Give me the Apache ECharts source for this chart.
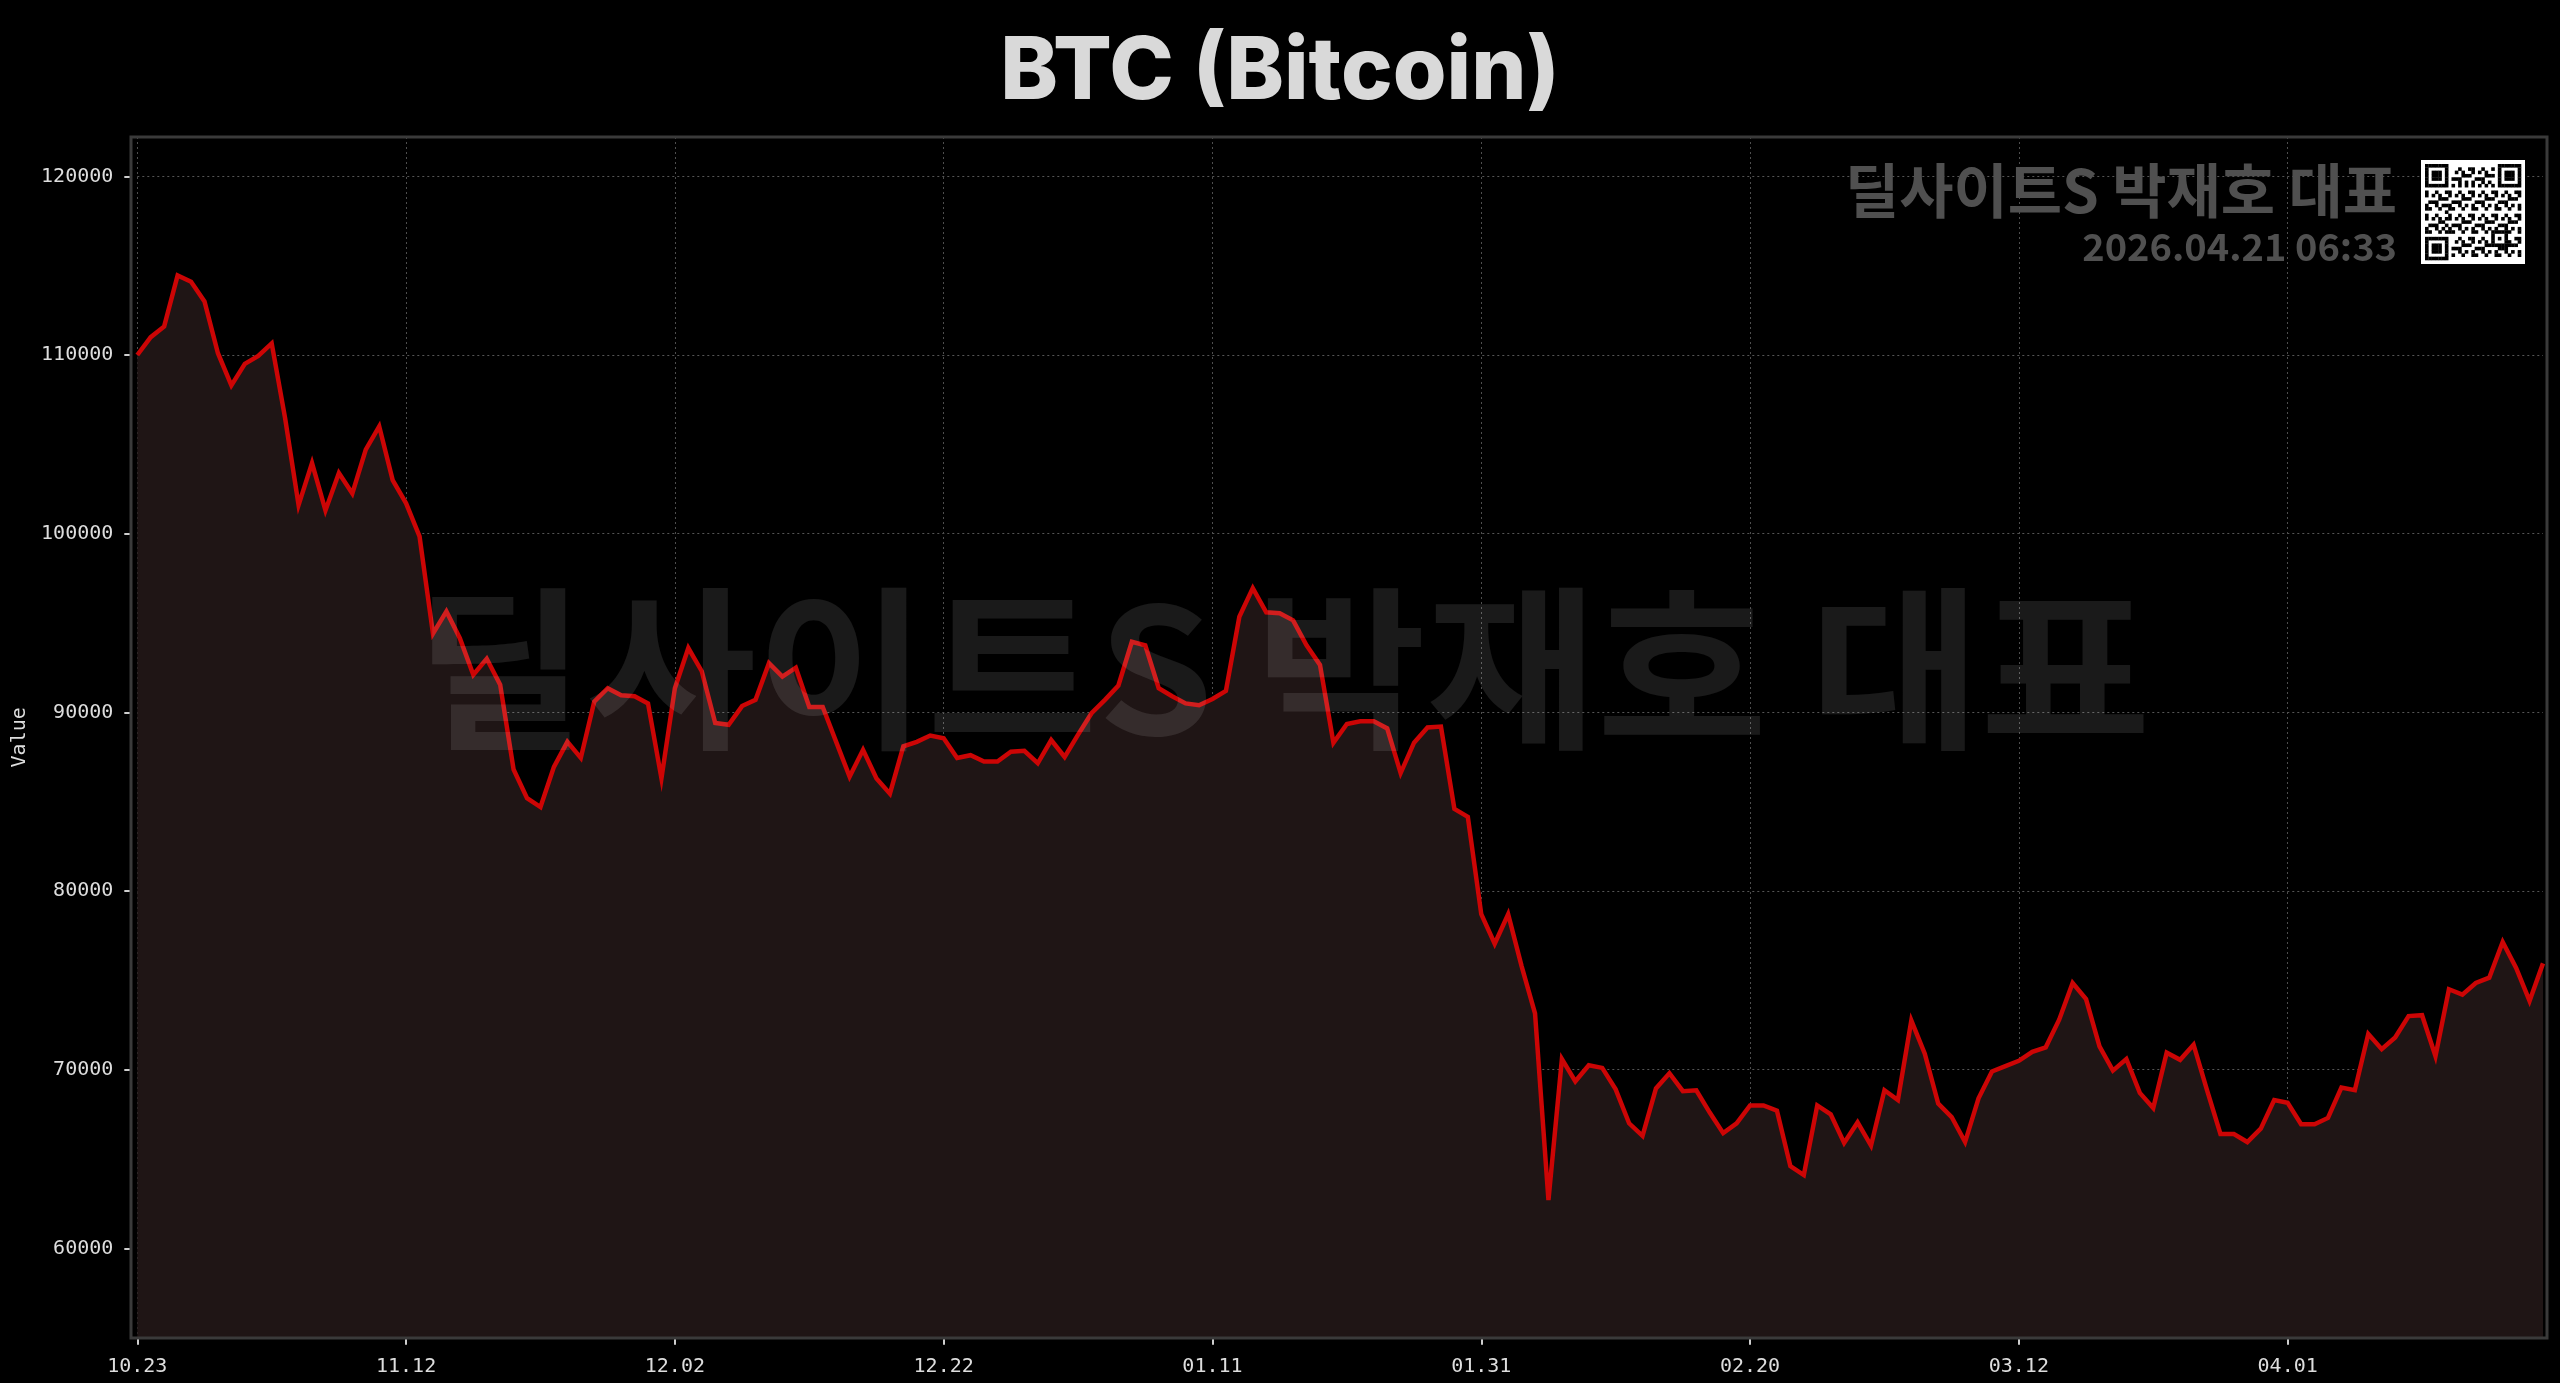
<!DOCTYPE html>
<html>
<head>
<meta charset="utf-8">
<script src="https://cdn.jsdelivr.net/npm/echarts@6/dist/echarts.min.js"></script>
<style>
html,body{margin:0;padding:0;background:#000;}
#chart{width:2560px;height:1383px;}
</style>
</head>
<body>
<div id="chart"></div>
<script>
// ---------------- data ----------------
const chartTitle = 'BTC (Bitcoin)';
const watermarkText = '딜사이트S 박재호 대표';
const stampText = '2026.04.21 06:33';
const yAxisName = 'Value';

const dates = [
  '10.23','10.24','10.25','10.26','10.27','10.28','10.29','10.30','10.31',
  '11.01','11.02','11.03','11.04','11.05','11.06','11.07','11.08','11.09','11.10',
  '11.11','11.12','11.13','11.14','11.15','11.16','11.17','11.18','11.19','11.20',
  '11.21','11.22','11.23','11.24','11.25','11.26','11.27','11.28','11.29','11.30',
  '12.01','12.02','12.03','12.04','12.05','12.06','12.07','12.08','12.09','12.10',
  '12.11','12.12','12.13','12.14','12.15','12.16','12.17','12.18','12.19','12.20',
  '12.21','12.22','12.23','12.24','12.25','12.26','12.27','12.28','12.29','12.30','12.31',
  '01.01','01.02','01.03','01.04','01.05','01.06','01.07','01.08','01.09','01.10',
  '01.11','01.12','01.13','01.14','01.15','01.16','01.17','01.18','01.19','01.20',
  '01.21','01.22','01.23','01.24','01.25','01.26','01.27','01.28','01.29','01.30','01.31',
  '02.01','02.02','02.03','02.04','02.05','02.06','02.07','02.08','02.09','02.10',
  '02.11','02.12','02.13','02.14','02.15','02.16','02.17','02.18','02.19','02.20',
  '02.21','02.22','02.23','02.24','02.25','02.26','02.27','02.28',
  '03.01','03.02','03.03','03.04','03.05','03.06','03.07','03.08','03.09','03.10',
  '03.11','03.12','03.13','03.14','03.15','03.16','03.17','03.18','03.19','03.20',
  '03.21','03.22','03.23','03.24','03.25','03.26','03.27','03.28','03.29','03.30','03.31',
  '04.01','04.02','04.03','04.04','04.05','04.06','04.07','04.08','04.09','04.10',
  '04.11','04.12','04.13','04.14','04.15','04.16','04.17','04.18','04.19','04.20'
];

const prices = [
  110000,111000,111600,114450,114100,113000,110100,108300,109500,109950,
  110650,106450,101600,103950,101300,103400,102250,104700,106000,103000,
  101700,99850,94400,95650,94150,92100,93000,91550,86800,85200,
  84700,86950,88350,87450,90600,91350,90950,90900,90500,86300,
  91350,93600,92300,89400,89300,90350,90700,92750,92000,92500,
  90300,90300,88350,86400,87900,86300,85450,88100,88350,88700,
  88550,87450,87600,87250,87250,87800,87850,87150,88450,87500,
  88750,89950,90700,91500,93950,93750,91350,90900,90500,90400,
  90750,91200,95350,96950,95600,95550,95150,93750,92650,88300,
  89350,89500,89500,89100,86600,88300,89150,89200,84600,84150,
  78700,77050,78700,75800,73150,62700,70600,69350,70250,70100,
  68900,67000,66300,68950,69800,68800,68850,67600,66450,67000,
  68000,68000,67700,64600,64100,68000,67500,65900,67050,65750,
  68850,68300,72750,70900,68100,67350,65950,68400,69900,70200,
  70500,71000,71250,72800,74850,73950,71300,69950,70600,68700,
  67850,70950,70550,71400,68850,66400,66400,65950,66700,68300,
  68150,66950,66950,67300,69000,68850,72000,71150,71800,73000,
  73050,70750,74500,74200,74850,75150,77150,75700,73850,75950
];

const yTicks = [60000,70000,80000,90000,100000,110000,120000];
const yMin = 55000;
const yMax = 122200;

// ---------------- decoration: QR-like badge ----------------
function qrGraphics(x0, y0, size) {
  const n = 29;
  const pad = 4;
  const s = (size - pad * 2) / n;
  const els = [{
    type: 'rect', z: 101, silent: true,
    shape: {x: x0, y: y0, width: size, height: size},
    style: {fill: '#ffffff'}
  }];
  function finder(r, c, r0, c0) {
    const dr = r - r0, dc = c - c0;
    if (dr < 0 || dc < 0 || dr > 6 || dc > 6) return false;
    if (dr === 0 || dr === 6 || dc === 0 || dc === 6) return true;
    return dr >= 2 && dr <= 4 && dc >= 2 && dc <= 4;
  }
  for (let r = 0; r < n; r++) {
    for (let c = 0; c < n; c++) {
      let dark;
      const inTL = r < 8 && c < 8, inTR = r < 8 && c >= n - 8, inBL = r >= n - 8 && c < 8;
      if (inTL) dark = finder(r, c, 0, 0);
      else if (inTR) dark = finder(r, c, 0, n - 7);
      else if (inBL) dark = finder(r, c, n - 7, 0);
      else if (Math.abs(r - (n - 7)) <= 2 && Math.abs(c - (n - 7)) <= 2) {
        dark = Math.max(Math.abs(r - (n - 7)), Math.abs(c - (n - 7))) !== 1;
      } else if (r === 6) dark = c % 2 === 0;
      else if (c === 6) dark = r % 2 === 0;
      else dark = ((r * r * 3 + c * 7 + r * c * 5 + 11) % 7) < 3;
      if (dark) {
        els.push({
          type: 'rect', z: 102, silent: true,
          shape: {x: x0 + pad + c * s, y: y0 + pad + r * s, width: s + 0.3, height: s + 0.3},
          style: {fill: '#000000'}
        });
      }
    }
  }
  return els;
}

// ---------------- chart ----------------
const chart = echarts.init(document.getElementById('chart'), null, {renderer: 'canvas'});

const fontMono = '"DejaVu Sans Mono", monospace';
const fontKr = '"Noto Sans CJK KR", "Noto Sans", sans-serif';

const option = {
  backgroundColor: '#000000',
  animation: false,
  title: {
    text: chartTitle,
    left: 'center',
    top: 24,
    textStyle: {
      fontFamily: 'Inter, "Noto Sans", sans-serif',
      fontWeight: 800,
      fontSize: 87,
      color: '#d9d9d9'
    }
  },
  grid: {
    left: 137.3,
    right: 17,
    top: 137,
    bottom: 45.3,
    containLabel: false,
    outerBoundsMode: 'none'
  },
  xAxis: {
    type: 'category',
    data: dates,
    boundaryGap: false,
    axisLine: {show: false},
    axisTick: {show: true, interval: 19, length: 7, lineStyle: {color: '#cfcfcf', width: 2}},
    axisLabel: {
      interval: 19,
      margin: 19,
      color: '#dddddd',
      fontFamily: fontMono,
      fontSize: 20
    },
    splitLine: {show: true, interval: 19, lineStyle: {color: '#4e4e4e', width: 1, type: [2, 3]}}
  },
  yAxis: {
    type: 'value',
    min: yMin,
    max: yMax,
    offset: 6,
    name: yAxisName,
    nameLocation: 'middle',
    nameGap: 101,
    nameTextStyle: {color: '#dddddd', fontFamily: fontMono, fontSize: 20},
    axisLine: {show: false},
    axisTick: {show: true, length: 7, customValues: yTicks, lineStyle: {color: '#cfcfcf', width: 2}},
    axisLabel: {
      customValues: yTicks,
      margin: 18,
      color: '#dddddd',
      fontFamily: fontMono,
      fontSize: 20,
      formatter: function (v) { return String(v); }
    },
    splitLine: {show: true, lineStyle: {color: '#555555', width: 1, type: [2, 3]}}
  },
  series: [{
    type: 'line',
    data: prices,
    symbol: 'none',
    showSymbol: false,
    lineStyle: {color: '#cc0505', width: 4.5, join: 'miter'},
    areaStyle: {color: '#1f1515', opacity: 1, origin: 'start'},
    z: 3
  }],
  graphic: [
    {
      type: 'rect', z: 90, silent: true,
      shape: {x: 131, y: 137, width: 2416, height: 1201},
      style: {fill: null, stroke: '#3a3a3a', lineWidth: 3}
    },
    {
      type: 'text', z: 100, silent: true,
      x: 1283, y: 668, scaleX: 1.06,
      style: {
        text: watermarkText,
        fill: 'rgba(255,255,255,0.10)',
        font: 'bold 175px ' + fontKr,
        textAlign: 'center',
        textVerticalAlign: 'middle'
      }
    },
    {
      type: 'text', z: 100, silent: true,
      x: 2397, y: 191,
      style: {
        text: watermarkText,
        fill: '#505050',
        font: 'bold 59px ' + fontKr,
        textAlign: 'right',
        textVerticalAlign: 'middle'
      }
    },
    {
      type: 'text', z: 100, silent: true,
      x: 2397, y: 247,
      style: {
        text: stampText,
        fill: '#505050',
        font: 'bold 38px ' + fontKr,
        textAlign: 'right',
        textVerticalAlign: 'middle'
      }
    }
  ].concat(qrGraphics(2421, 160, 104))
};

chart.setOption(option);
</script>
</body>
</html>
